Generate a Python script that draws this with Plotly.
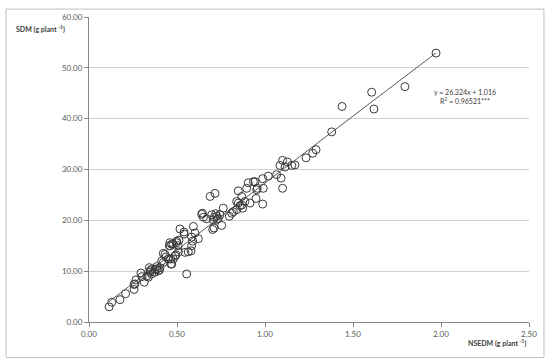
import plotly.graph_objects as go

# NSEDM (x) and SDM (y)
nsedm = [0.114, 0.129, 0.176, 0.208, 0.256, 0.256, 0.261, 0.267, 0.295, 0.301,
         0.314, 0.328, 0.337, 0.343, 0.347, 0.347, 0.356, 0.356, 0.375, 0.375,
         0.385, 0.385, 0.394, 0.400, 0.403, 0.413, 0.422, 0.422, 0.432, 0.438,
         0.451, 0.456, 0.460, 0.460, 0.464, 0.466, 0.470, 0.470, 0.479, 0.479,
         0.489, 0.494, 0.498, 0.498, 0.507, 0.508, 0.511, 0.517, 0.540, 0.540,
         0.545, 0.555, 0.564, 0.580, 0.583, 0.583, 0.589, 0.593, 0.602, 0.621,
         0.640, 0.645, 0.650, 0.669, 0.688, 0.697, 0.703, 0.706, 0.710, 0.712,
         0.716, 0.720, 0.725, 0.728, 0.735, 0.744, 0.754, 0.763, 0.797, 0.811,
         0.820, 0.839, 0.839, 0.848, 0.848, 0.858, 0.868, 0.868, 0.873, 0.886,
         0.896, 0.905, 0.915, 0.934, 0.943, 0.949, 0.953, 0.956, 0.987, 0.987,
         0.990, 1.019, 1.066, 1.085, 1.091, 1.100, 1.100, 1.114, 1.127, 1.152,
         1.170, 1.233, 1.271, 1.290, 1.379, 1.438, 1.606, 1.619, 1.795, 1.972]
sdm = [2.98, 3.88, 4.40, 5.57, 6.41, 7.38, 7.50, 8.29, 9.64, 8.93,
       7.83, 9.00, 8.80, 10.70, 10.10, 9.80, 9.45, 10.40, 10.40, 9.80,
       10.90, 10.40, 10.10, 10.20, 10.70, 12.00, 13.50, 11.70, 13.30, 12.80,
       12.40, 15.00, 15.60, 15.00, 12.40, 11.40, 15.30, 11.40, 12.40, 15.30,
       13.00, 13.20, 15.90, 15.60, 15.00, 13.80, 16.10, 18.30, 17.70, 17.30,
       13.70, 9.45, 13.80, 14.00, 15.00, 16.70, 15.90, 18.80, 17.50, 16.40,
       21.20, 21.40, 20.60, 20.30, 24.70, 21.10, 18.20, 20.10, 18.50, 20.60,
       25.30, 21.30, 20.80, 20.20, 20.40, 21.10, 19.00, 22.40, 20.80, 21.40,
       21.70, 22.10, 23.70, 23.40, 25.80, 22.90, 24.70, 23.00, 22.40, 23.70,
       26.30, 27.40, 23.40, 27.60, 27.60, 24.30, 26.00, 26.30, 28.20, 23.20,
       26.30, 28.70, 29.00, 30.80, 28.30, 31.80, 26.30, 30.50, 31.50, 30.80,
       30.90, 32.30, 33.20, 33.90, 37.40, 42.40, 45.20, 41.90, 46.30, 52.90]

slope, intercept = 26.324, 1.016
x_fit = [min(nsedm), max(nsedm)]
y_fit = [slope * v + intercept for v in x_fit]

tick_col = "#595959"
fnt = "Lato, 'Liberation Sans', sans-serif"

fig = go.Figure()
fig.add_trace(go.Scatter(
    x=x_fit, y=y_fit, mode="lines",
    line=dict(color="#595959", width=1), showlegend=False
))
fig.add_trace(go.Scatter(
    x=nsedm, y=sdm, mode="markers",
    marker=dict(size=8, color="rgba(0,0,0,0)", line=dict(color="#3a3a3a", width=1)),
    showlegend=False
))

fig.update_layout(
    width=550, height=364,
    margin=dict(l=89, r=21, t=13, b=42),
    paper_bgcolor="white", plot_bgcolor="white",
    font=dict(family=fnt, size=8, color=tick_col),
    xaxis=dict(range=[0, 2.5], dtick=0.5, tickformat=".2f", showgrid=False,
               zeroline=False, showline=True, linecolor="#868686", linewidth=1,
               ticks="outside", ticklen=4, tickcolor="#868686"),
    yaxis=dict(range=[0, 60], dtick=10, tickformat=".2f", showgrid=True,
               gridcolor="#d0d0d0", gridwidth=1, zeroline=False, showline=True,
               linecolor="#868686", linewidth=1, ticks="outside", ticklen=4,
               tickcolor="#868686"),
    shapes=[dict(type="rect", xref="paper", yref="paper",
                 x0=-0.1886, x1=1.034, y0=-0.1165, y1=1.0259,
                 line=dict(color="#bfbfbf", width=1))],
    annotations=[
        dict(text="<b>SDM (g plant <sup>-1</sup>)</b>", xref="paper", yref="paper",
             x=-0.171, y=0.962, xanchor="left", yanchor="middle", showarrow=False,
             font=dict(size=7, color="#404040", family=fnt)),
        dict(text="<b>NSEDM (g plant <sup>-1</sup>)</b>", xref="paper", yref="paper",
             x=0.998, y=-0.068, xanchor="right", yanchor="middle", showarrow=False,
             font=dict(size=7, color="#404040", family=fnt)),
        dict(text="y = 26.324x + 1.016<br>R<sup>2</sup> = 0.96521***",
             xref="paper", yref="paper", x=0.855, y=0.738, xanchor="center",
             yanchor="middle", showarrow=False, align="center",
             font=dict(size=7, color="#404040", family=fnt)),
    ],
)

fig.write_html("out.html", config={"displayModeBar": False},
               post_script="document.body.style.margin='0';")
